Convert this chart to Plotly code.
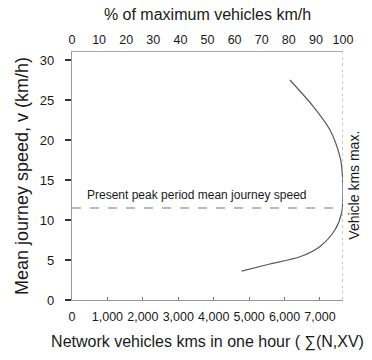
import plotly.graph_objects as go

# Data
speed_v = [27.5, 24.2, 21.25, 17.9, 16.7, 13.4, 10.9, 8.75, 6.7, 5.4, 4.5, 3.6]
pct_max = [80.4, 89.0, 95.2, 98.9, 99.5, 100.0, 99.5, 97.0, 91.5, 84.1, 73.0, 62.6]
present_speed = 11.5
max_pct = 100
pct_ticks = [0, 10, 20, 30, 40, 50, 60, 70, 80, 90, 100]
kms_ticks = [0, 1000, 2000, 3000, 4000, 5000, 6000, 7000]
speed_ticks = [0, 5, 10, 15, 20, 25, 30]

REG = "Liberation Sans, Arial, sans-serif"
TXT = "#1a1a1a"

fig = go.Figure()

# invisible trace to anchor bottom axis
fig.add_trace(go.Scatter(x=[kms_ticks[0]], y=[speed_ticks[0]], xaxis="x", yaxis="y",
                         mode="markers", marker=dict(opacity=0), hoverinfo="skip",
                         showlegend=False))

# curve
fig.add_trace(go.Scatter(x=pct_max, y=speed_v, xaxis="x2", yaxis="y", mode="lines",
                         line=dict(color="#5a5a5a", width=1.2, shape="spline", smoothing=0.8),
                         showlegend=False))

# present speed dashed line
fig.add_trace(go.Scatter(x=[pct_ticks[0], max_pct], y=[present_speed, present_speed],
                         xaxis="x2", yaxis="y", mode="lines",
                         line=dict(color="#777777", width=1.2, dash="dash"),
                         showlegend=False))

# vehicle kms max line
fig.add_trace(go.Scatter(x=[max_pct, max_pct], y=[0, 31], xaxis="x2", yaxis="y",
                         mode="lines", line=dict(color="#aaaaaa", width=1.2, dash="dot"),
                         showlegend=False))

fig.update_layout(
    width=372, height=360,
    margin=dict(l=72, r=29, t=52, b=60),
    paper_bgcolor="white", plot_bgcolor="white",
    xaxis=dict(range=[0, 7650], tickvals=kms_ticks, tickformat=",", tickangle=0,
               showgrid=False, zeroline=False, showline=True, linecolor="#999999", linewidth=1.2,
               ticks="inside", ticklen=3, tickcolor="#777777", ticklabelstandoff=5,
               tickfont=dict(family=REG, size=12.5, color=TXT),
               title=dict(text="Network vehicles kms in one hour ( ∑(N,XV)",
                          font=dict(family=REG, size=16, color=TXT), standoff=12)),
    xaxis2=dict(range=[0, 100], tickvals=pct_ticks, overlaying="x", side="top", tickangle=0,
                showgrid=False, zeroline=False, showline=True, linecolor="#aaaaaa", linewidth=1.2,
                ticks="", ticklabelstandoff=2, tickfont=dict(family=REG, size=12.5, color=TXT),
                title=dict(text="% of maximum vehicles km/h",
                           font=dict(family=REG, size=16, color=TXT), standoff=8)),
    yaxis=dict(range=[0, 31], tickvals=speed_ticks,
               showgrid=False, zeroline=False, showline=True, linecolor="#999999", linewidth=1.2,
               ticks="outside", ticklen=6, tickwidth=2, tickcolor="#333333",
               ticklabelstandoff=8,
               tickfont=dict(family=REG, size=13, color=TXT),
               title=dict(text="Mean journey speed, v (km/h)",
                          font=dict(family=REG, size=18, color=TXT), standoff=6)),
    annotations=[
        dict(text="Present peak period mean journey speed", xref="x2", yref="y",
             x=4.8, y=13.1, xanchor="left", yanchor="middle", showarrow=False,
             font=dict(family=REG, size=12, color=TXT)),
        dict(text="Vehicle kms max.", xref="paper", yref="y", x=1.04, y=14.4,
             xanchor="center", yanchor="middle", showarrow=False, textangle=-90,
             font=dict(family=REG, size=14, color=TXT)),
    ],
)

fig.write_html("out.html")
